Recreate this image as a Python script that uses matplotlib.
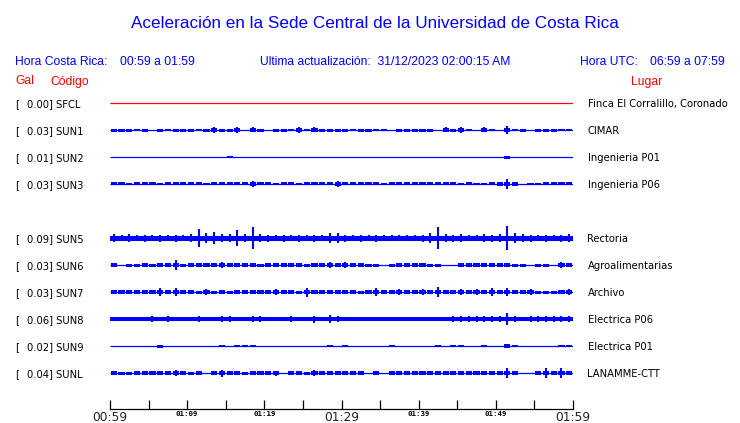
import matplotlib
matplotlib.use("Agg")
import matplotlib.pyplot as plt
import numpy as np

# --- data ---
title = "Aceleración en la Sede Central de la Universidad de Costa Rica"
hora_cr = "00:59 a 01:59"
hora_utc = "06:59 a 07:59"
actualizacion = "31/12/2023 02:00:15 AM"
start_min = 59          # 00:59 local time
span_min = 60

codes = ["SFCL", "SUN1", "SUN2", "SUN3", "SUN4", "SUN5", "SUN6", "SUN7", "SUN8", "SUN9", "SUNL"]
gal = [0.00, 0.03, 0.01, 0.03, None, 0.09, 0.03, 0.03, 0.06, 0.02, 0.04]
lugar = ["Finca El Corralillo, Coronado", "CIMAR", "Ingenieria P01", "Ingenieria P06", "",
         "Rectoria", "Agroalimentarias", "Archivo", "Electrica P06", "Electrica P01", "LANAMME-CTT"]

# half-width of the continuous band of each trace (px)
base = [0, 0, 0, 0, None, 2.5, 0, 0, 1.7, 0, 0]

# per-minute peak half-amplitude of each trace (px), 60 minutes
env_sfcl = [0] * 60
env_sun1 = [1.5, 1.5, 1.5, 1, 1.5, 0, 1.5, 1, 1.5, 1.5, 1.5, 1, 1.5, 2.7, 1.5, 1.5, 3, 0, 2.5, 1.5,
            0, 1.5, 1.5, 1, 3, 1, 2.5, 1.5, 1.5, 1.5, 1.5, 1, 1.5, 1.5, 1, 1, 0, 1.5, 1.5, 1.5,
            1.5, 1.5, 0, 2.5, 1.5, 3, 1, 0, 2.5, 1, 0, 4.3, 1, 1.5, 0, 1.5, 1.5, 1.5, 1, 1]
env_sun2 = [0, 0, 0, 0, 0, 0, 0, 0, 0, 0, 0, 0, 0, 0, 0, 0.6, 0, 0, 0, 0,
            0, 0, 0, 0, 0, 0, 0, 0, 0, 0, 0, 0, 0, 0, 0, 0, 0, 0, 0, 0,
            0, 0, 0, 0, 0, 0, 0, 0, 0, 0, 0, 1.5, 0, 0, 0, 0, 0, 0, 0, 0]
env_sun3 = [1.5, 1.5, 1, 1.5, 1.5, 1.5, 1, 1.5, 1.5, 1.5, 1.5, 1.5, 1, 1.5, 1.5, 1.5, 1.5, 1.5, 3.3, 1.5,
            1.5, 1, 1.5, 1.5, 1, 1.5, 1.5, 1.5, 1.5, 2.7, 1.5, 1.5, 1.5, 1.5, 1.5, 1, 1.5, 1.5, 1.5, 1.5,
            1.5, 1.5, 1.5, 1.5, 1.5, 1, 1.5, 1, 1, 1.5, 2, 5, 2, 0, 0.5, 1, 1.5, 1.5, 1.5, 1.5]
env_sun5 = [4, 3, 4, 3, 3.5, 3, 3.5, 3, 3.5, 3, 4, 9, 5, 6, 4, 4, 8, 4, 11, 4,
            3.5, 3, 3.5, 3, 3.5, 3, 3.5, 3, 5, 5, 3.5, 3, 3.5, 3, 3.5, 3, 3, 3, 3, 3,
            3.5, 5, 11, 4, 3.5, 4, 3, 3, 4, 3.5, 4, 12, 5, 4, 3.5, 3, 3.5, 3, 3.5, 4]
env_sun6 = [1.7, 0, 1.5, 1.5, 1.7, 1.5, 1.7, 1.7, 5, 1.5, 1.7, 1.7, 1.7, 1.7, 3, 1.7, 1.7, 1.7, 1.7, 1.5,
            1.7, 1.7, 1.7, 1.7, 1.7, 1.5, 1.7, 1.7, 3, 1.7, 3, 1.7, 1.7, 1.5, 1.5, 0, 1.5, 1.7, 1.7, 1.7,
            1.7, 1.5, 1.5, 0, 0, 1.7, 1.7, 1.7, 1.7, 1.7, 1.7, 1.7, 1.5, 1.5, 0, 1.5, 1.5, 0, 3, 1.7]
env_sun7 = [2, 2, 1.7, 2, 1.7, 2, 4, 2, 4, 2, 2, 1.5, 3, 1.5, 1.7, 1.5, 2, 2, 2, 2,
            2, 3, 2, 1.7, 1.5, 4.5, 2, 2, 1.7, 2, 2, 2, 1.5, 1.7, 4, 2, 1.7, 3, 2, 2,
            3, 2, 5, 2, 2, 3, 2, 3, 2, 4, 2, 4, 2, 2, 3, 1.5, 1.5, 1.5, 2, 3]
env_sun8 = [2.3, 2, 2, 2, 2, 2.7, 2.3, 2.7, 2, 2, 2, 2.7, 2, 2.3, 3, 3, 2.3, 2, 2.7, 2.7,
            2, 2, 2, 2.7, 2.3, 2.3, 3.5, 2.3, 4, 2.7, 2, 2.3, 2, 2, 2, 2, 2, 2.3, 2, 2.3,
            2, 2.3, 2.3, 2.3, 2.7, 3, 2.7, 3, 2.7, 2.7, 3, 6, 2.7, 2.3, 2.7, 2.7, 3, 3, 2.7, 2.7]
env_sun9 = [0, 0, 0, 0, 0, 0, 1.5, 0, 0, 0, 0, 0, 0, 0, 1, 0, 1.3, 1, 1, 0,
            0, 0, 0, 0, 0, 0, 0, 0, 1.3, 0, 1, 0, 0, 0, 0, 0, 1, 0, 0, 0,
            0, 0, 1, 0, 1, 1, 0, 0, 1, 0, 0, 2.2, 1, 0, 0, 0, 0, 0, 1, 1]
env_sunl = [1.7, 1.5, 1.5, 1.7, 1.7, 1.7, 1.7, 1.7, 3, 1.7, 1.5, 1.7, 0, 1.7, 3.5, 1.7, 1.7, 1.5, 1.7, 1.7,
            1.7, 2.5, 0, 1.7, 1.7, 1.5, 3, 1.7, 1.7, 1.7, 1.7, 1.7, 1.7, 0, 1.7, 0, 1.7, 1.7, 1.7, 1.7,
            1.7, 1.7, 1.7, 1.7, 1.7, 1.7, 1.7, 1.7, 1.7, 1.7, 1.7, 5, 1.7, 0, 0, 1.7, 5, 1.7, 5, 1.7]

envelopes = [env_sfcl, env_sun1, env_sun2, env_sun3, None, env_sun5,
             env_sun6, env_sun7, env_sun8, env_sun9, env_sunl]

# --- layout (pixels of a 740x423 figure) ---
W, H = 740, 423
BLUE = "#0000ff"
RED = "#ff0000"
row0, row_step = 103, 27
ax_left, ax_right, ax_top, ax_bottom = 110, 573, 90, 409


def fx(px):
    return px / W


def fy(py):
    return 1 - py / H


fig = plt.figure(figsize=(W / 100, H / 100), dpi=100)
head = ["Liberation Sans", "DejaVu Sans"]
hdr = dict(fontsize=8.7, family=head, va="baseline")

fig.text(fx(375), fy(28.3), title, color=BLUE, fontsize=12.3, family=head, ha="center", va="baseline")
fig.text(fx(15), fy(65), "Hora Costa Rica:", color=BLUE, **hdr)
fig.text(fx(120), fy(65), hora_cr, color=BLUE, **hdr)
fig.text(fx(260), fy(65), "Ultima actualización:  " + actualizacion, color=BLUE, **hdr)
fig.text(fx(580.5), fy(65), "Hora UTC:", color=BLUE, **hdr)
fig.text(fx(650.5), fy(65), hora_utc, color=BLUE, **hdr)
fig.text(fx(15), fy(84.5), "Gal", color=RED, **hdr)
fig.text(fx(50.5), fy(84.5), "Código", color=RED, **hdr)
fig.text(fx(630.5), fy(84.5), "Lugar", color=RED, **hdr)

ax = fig.add_axes([fx(ax_left), fy(ax_bottom), (ax_right - ax_left) / W, (ax_bottom - ax_top) / H])
ax.set_xlim(0, span_min)
ax.set_ylim(ax_bottom, ax_top)

mins = np.arange(span_min) + 0.5
block_cap = 2.2   # blips are drawn as short blocks, the rest of the peak as a thin spike
for i, code in enumerate(codes):
    env = envelopes[i]
    if env is None:
        continue
    y0 = row0 + row_step * i
    col = RED if code == "SFCL" else BLUE
    ax.plot([0, span_min], [y0, y0], color=col, lw=0.9, solid_capstyle="butt")
    if base[i]:
        ax.fill_between([0, span_min], y0 - base[i], y0 + base[i], color=col, lw=0)
    a = np.array(env, dtype=float)
    m = a > 0
    blk = np.minimum(a, block_cap)
    ax.bar(mins[m], 2 * blk[m], bottom=y0 - blk[m], width=0.8, color=col, lw=0)
    big = a > block_cap
    ax.vlines(mins[big], y0 - a[big], y0 + a[big], color=col, lw=1.5)

    fig.text(fx(15), fy(y0 + 4), "[", fontsize=7.2, va="baseline", color="black")
    fig.text(fx(27), fy(y0 + 4), f"{gal[i]:.2f}] {code}", fontsize=7.2, va="baseline", color="black")
    fig.text(fx(587.5), fy(y0 + 3.8), lugar[i], fontsize=7.2, va="baseline", color="black",
             family=["Liberation Sans Narrow", "DejaVu Sans"])

for s in ["top", "left", "right"]:
    ax.spines[s].set_visible(False)
ax.spines["bottom"].set_linewidth(0.9)
ax.set_yticks([])

ticks = list(range(0, span_min + 1, 5))
labels = []
for t in ticks:
    hh, mm = divmod(start_min + t, 60)
    labels.append(f"{hh:02d}:{mm:02d}" if t % 10 == 0 else "")
ax.set_xticks(ticks)
ax.set_xticklabels(labels)
ax.tick_params(axis="x", direction="in", length=6.5, width=0.9, pad=1.5, colors="black")
for t, lab in zip(ticks, ax.get_xticklabels()):
    if t % 30 == 0:
        lab.set_fontsize(8.8)
        lab.set_family("DejaVu Sans")
        lab.set_color("#222222")
    else:
        lab.set_fontsize(5.3)
        lab.set_family("DejaVu Sans Mono")
        lab.set_fontweight("bold")

fig.savefig("out.png", dpi=100)
